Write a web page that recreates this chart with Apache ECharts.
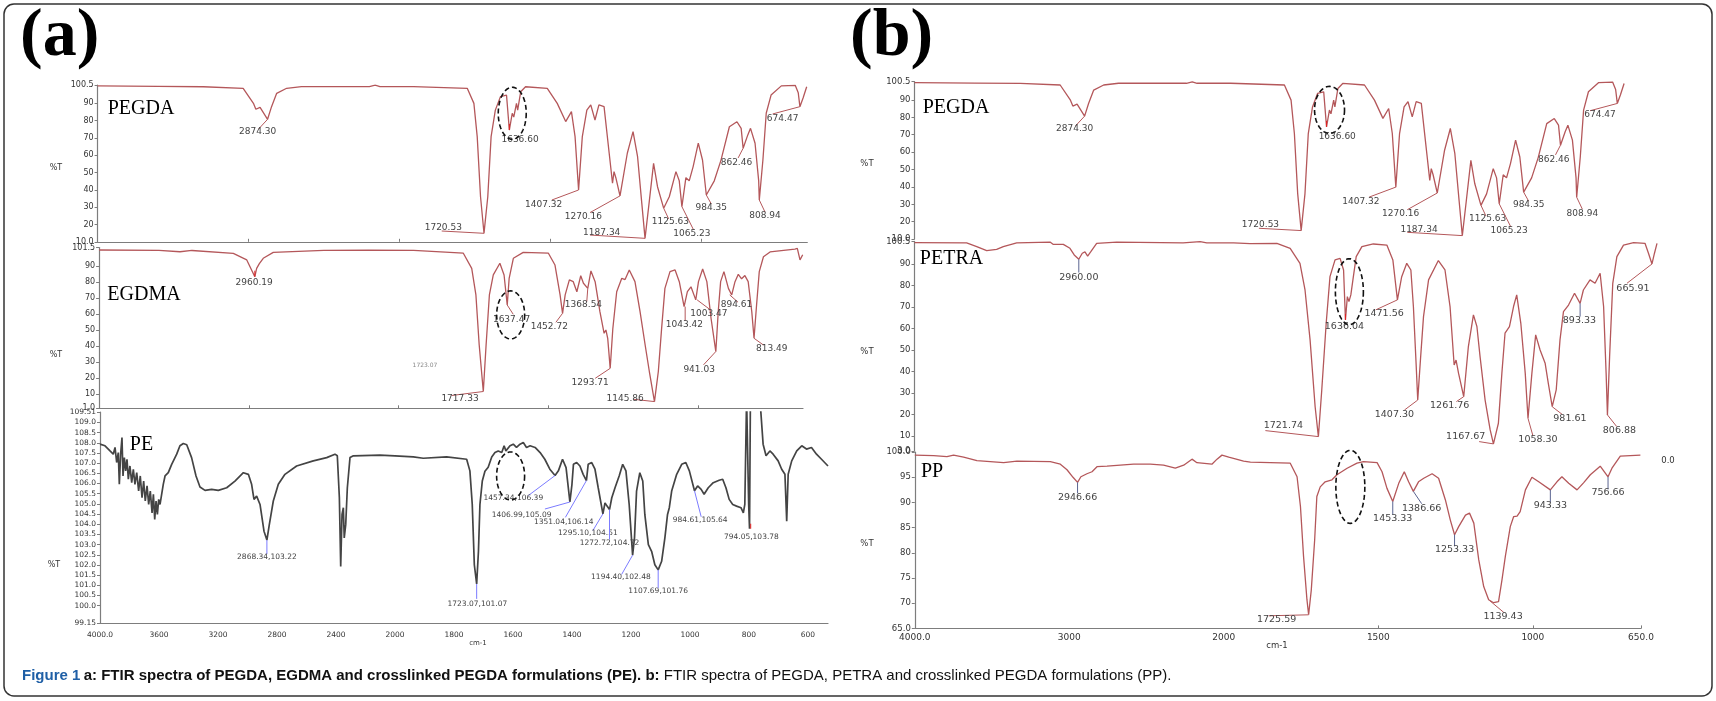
<!DOCTYPE html>
<html><head><meta charset="utf-8">
<script src="https://cdn.jsdelivr.net/npm/echarts@6.0.0/dist/echarts.min.js"></script>
<style>html,body{margin:0;padding:0;background:#fff}#c{width:1716px;height:701px}</style>
</head><body><div id="c"></div>
<script>
// ---------------- DATA (wavenumber cm-1, %T) ----------------
const pegda = [[4000,100],[3600,99.7],[3300,99.5],[3036,98.6],[2968,89.9],[2952,86.5],[2924,87.6],[2874.3,80.7],[2848,88],[2814,95.7],[2748,98.6],[2650,99.6],[2200,99.6],[2162,100.4],[2130,99.6],[1954,99.6],[1776,98.6],[1754,89.9],[1743,70.7],[1732,36],[1720.53,14.9],[1708,36],[1697,70.7],[1683,86],[1666,93.8],[1646,94.7],[1636.6,74.5],[1627,84.2],[1622,82],[1613,89.9],[1609,86],[1599,96.6],[1583,99.5],[1511,98.6],[1478,89.9],[1450,79.4],[1431,85.1],[1419,70.7],[1407.32,39.9],[1395,70.7],[1380,86],[1367,89],[1353,80.3],[1340,89],[1323,88],[1306,61.1],[1295,43.8],[1290,50.5],[1284,47],[1270.16,36.5],[1246,61.1],[1227,73.6],[1212,59.1],[1198,32.2],[1187.34,12],[1174,32.2],[1159,55.3],[1146,41.8],[1125.63,29.4],[1107,36],[1085,50.5],[1074,45.2],[1065.23,30.3],[1052,47],[1041,45.2],[1028,53.4],[1011,66.9],[997,57.2],[984.35,37],[958,45.2],[936,57],[908,76.4],[883,79.3],[869,75.5],[862.46,64],[847,71.7],[838,75.5],[823,66.9],[811,45.2],[808.94,34.1],[797,57.2],[786,84.2],[770,94.7],[736,100],[690,100.3],[680,96],[674.47,88],[664,93],[652,99.5]];

const egdma = [[4000,100],[3600,99.8],[3460,98.9],[3380,99.7],[3104,97.9],[3014,93.8],[2960.19,83.3],[2948,88.5],[2930,91.5],[2904,94.8],[2837,98.5],[2500,99.8],[2200,99.9],[1950,99.8],[1784,98],[1756,88.5],[1742,71.9],[1731,40.6],[1717.33,11.5],[1708,40.6],[1697,71.9],[1684,84.4],[1662,91.7],[1648,84.4],[1637.47,65.6],[1631,82.3],[1617,94.8],[1584,98.5],[1500,98],[1478,90.6],[1461,71.9],[1452.72,60.4],[1444,71.9],[1430,81.3],[1417,80.2],[1405,73.9],[1392,83.9],[1383,79.2],[1368.54,76],[1358,86.9],[1344,80.2],[1328,61.4],[1314,47.9],[1308,50],[1302,44.8],[1293.71,26],[1285,50.6],[1272,73.9],[1255,82.3],[1244,81.5],[1230,87.5],[1211,80.2],[1194,61.4],[1177,40.6],[1163,24],[1145.86,5.2],[1133,24],[1122,51],[1111,76],[1094,86.5],[1077,87.5],[1063,80.2],[1047,64.6],[1036,73.9],[1024,77],[1008,68.8],[999,80.2],[985,88.1],[971,80.2],[957,57.3],[941.03,36.5],[933,61.4],[925,80.2],[914,86.5],[899,76],[888,71.9],[877,80.2],[866,84.8],[855,82],[844,84],[833,80.2],[821,61.4],[813.49,44.8],[805,65.6],[796,86.5],[782,95.8],[760,98.8],[677,100.6],[669,101],[660,93.8],[651,97]];

const pe = [[4000,107.93],[3966,107.85],[3932,107.6],[3910,107.44],[3898,107.77],[3887,107.03],[3876,107.52],[3869,105.96],[3860,107.44],[3851,108.26],[3844,106.37],[3835,107.27],[3826,106.62],[3817,107.19],[3808,106.21],[3797,106.86],[3785,106.04],[3774,106.7],[3763,105.96],[3751,106.53],[3738,105.63],[3727,106.37],[3715,105.3],[3704,106.12],[3693,105.14],[3681,105.88],[3670,104.97],[3659,105.63],[3647,104.56],[3638,105.47],[3629,104.23],[3620,105.14],[3611,104.48],[3602,105.22],[3593,104.97],[3582,105.47],[3571,105.96],[3559,106.37],[3537,106.53],[3514,106.94],[3480,107.44],[3458,107.85],[3435,107.96],[3412,107.9],[3379,107.27],[3349,106.37],[3322,105.83],[3288,105.66],[3243,105.71],[3232,105.76],[3198,105.66],[3141,105.79],[3085,106.12],[3028,106.53],[2994,106.45],[2972,105.96],[2956,105.22],[2938,105.38],[2927,105.43],[2915,104.97],[2888,103.66],[2868.34,103.22],[2852,103.98],[2825,105.14],[2791,105.96],[2746,106.45],[2667,106.86],[2554,107.11],[2463,107.27],[2407,107.44],[2391,107.36],[2377,105.3],[2368,101.93],[2359,104.48],[2350,104.81],[2344,103.33],[2334,103.98],[2323,105.79],[2305,107.27],[2282,107.36],[2102,107.39],[2000,107.36],[1938,107.31],[1904,107.24],[1825,107.31],[1757,107.19],[1746,106.62],[1738,104.97],[1731,102.01],[1723.07,101.07],[1717,102.67],[1712,104.97],[1704,106.12],[1695,106.6],[1684,106.8],[1672,107.3],[1661,107.52],[1650,107.6],[1638,107.52],[1630,107.85],[1624,107.6],[1610,107.85],[1599,107.93],[1588,107.77],[1576,107.93],[1565,108.01],[1554,107.77],[1542,107.85],[1525,107.77],[1508,107.52],[1492,107.19],[1475,106.7],[1457.34,106.39],[1446,106.62],[1432,107.19],[1420,106.78],[1406.99,105.09],[1400,105.96],[1395,106.94],[1384,107.03],[1373,106.86],[1362,106.45],[1351.04,106.14],[1345,106.94],[1333,107.03],[1322,106.7],[1311,105.79],[1295.1,104.51],[1288,105.05],[1281,104.89],[1272.72,104.72],[1265,105.3],[1254,105.79],[1240,106.37],[1228,106.94],[1217,106.62],[1206,104.97],[1194.4,102.48],[1188,103.33],[1181,105.63],[1170,106.53],[1160,106.12],[1153,104.48],[1141,103],[1130,102.67],[1119,102.01],[1107.69,101.76],[1096,102.18],[1085,103.33],[1076,104.48],[1070,104.81],[1062,105.63],[1045,106.45],[1028,106.94],[1014,107.03],[1002,106.62],[984.61,105.64],[974,105.88],[962,105.71],[952,105.47],[938,105.79],[921,106.04],[901,106.16],[889,106.21],[878,105.79],[867,105.22],[855,104.97],[842,104.89],[827,104.81],[819,104.56],[814,104.97],[808,110.2],[804,110.2],[801,105],[798,103.78],[795,110.2],[763,110.2],[752,107.93],[742,107.36],[729,107.6],[718,107.44],[701,107.11],[689,106.7],[678,106.45],[672,104.15],[667,106.45],[655,107.11],[638,107.6],[621,107.85],[605,107.69],[588,107.77],[571,107.44],[554,107.19],[532,106.86]];

const petra = [[4000,99.9],[3670,99.8],[3606,98.1],[3543,96.2],[3480,96.8],[3438,98.1],[3353,99.8],[3142,100.2],[3121,99.1],[3058,99.1],[3016,97.3],[2989,94.2],[2960,92.2],[2938,95],[2921,95.6],[2904,93.7],[2885,95.6],[2847,99.6],[2720,100.2],[2300,99.8],[2192,100.4],[2150,99.8],[1990,99.8],[1938,99.5],[1853,99.6],[1811,97.3],[1780,90.3],[1764,77.9],[1748,54.7],[1732,23.6],[1721.74,9.7],[1711,31.4],[1697,62.4],[1685,84.1],[1669,91.9],[1653,92.6],[1642,87.2],[1636.04,64],[1630,74.8],[1625,72.5],[1619,75.6],[1611,84.1],[1602,93.4],[1584,98.1],[1548,99.3],[1505,98.8],[1486,91.9],[1471.56,73.3],[1458,84.1],[1442,90.3],[1429,87.2],[1421,70.2],[1412,42.2],[1407.3,26.7],[1398,46.9],[1389,65.5],[1373,82.6],[1342,91.6],[1321,87.2],[1305,70.2],[1292,43],[1286,45.3],[1278,39.1],[1261.76,28.3],[1247,51.6],[1231,66.3],[1220,60.9],[1210,46.9],[1194,26.7],[1178,12.8],[1167.67,6.3],[1152,15.9],[1141,39.1],[1131,57.8],[1117,60.9],[1104,70.2],[1094,75.6],[1081,62.4],[1067,39.1],[1058.3,18.2],[1046,39.1],[1034,57],[1020,50],[1004,43.8],[994,34.5],[981.61,23.6],[969,31.4],[957,54.7],[946,67.8],[930,70.9],[911,76.4],[893.33,71.7],[883,77.9],[862,82.6],[846,81],[830,85.7],[819,70.2],[811,39.1],[806.88,19.8],[800,46.9],[790,81],[777,93.4],[756,98.8],[724,99.9],[688,99.6],[677,95],[665.91,90],[658,95],[650,99.6]];

const pp = [[4000,99.4],[3878,99.3],[3792,99.1],[3749,99.4],[3684,99],[3598,98.3],[3425,97.9],[3339,98.2],[3123,98.1],[3058,97.6],[3015,96.5],[2976,95],[2946.66,94],[2925,95.1],[2886,95.7],[2853,96.1],[2821,97.1],[2756,97.2],[2584,97.6],[2476,97.6],[2390,97.4],[2314,96.8],[2260,97.4],[2206,98.6],[2174,97.9],[2077,97.6],[2044,98.6],[2012,99.4],[1984,99],[1936,98.2],[1914,98],[1785,97.8],[1763,95.1],[1752,89.2],[1742,79.3],[1731,70.7],[1725.59,67.7],[1717,72.6],[1706,82.6],[1699,91.2],[1688,93.1],[1672,94.1],[1650,94.5],[1634,95.5],[1601,96.8],[1569,97.8],[1548,98.1],[1504,97.9],[1488,96.1],[1472,92.8],[1453.33,90.2],[1434,93.8],[1416,96.1],[1402,94.1],[1386.66,92.2],[1370,94.1],[1353,94.8],[1326,95.7],[1305,94.8],[1283,90.5],[1267,86.5],[1253.33,83.6],[1240,85.2],[1218,87.5],[1205,87.9],[1191,85.9],[1175,78.6],[1159,73.3],[1143,70.7],[1127,70.1],[1111,70.3],[1100,74.6],[1089,79.3],[1073,85.2],[1062,87.2],[1051,87.3],[1041,88.2],[1024,92.5],[1003,95],[981,94.1],[943.33,92.5],[922,94.1],[906,95.1],[884,93.8],[857,92.5],[836,93.9],[814,95.5],[782,97.2],[756.66,95.1],[744,96.8],[717,99.2],[652,99.4]];

// labelled peaks [wavenumber, %T]
const pegdaPeaks = [[2874.30,80.7],[1720.53,14.9],[1636.60,74.5],[1407.32,39.9],[1270.16,36.5],[1187.34,12],[1125.63,29.4],[1065.23,30.3],[984.35,37],[862.46,64],[808.94,34.1],[674.47,88]];
const egdmaPeaks = [[2960.19,83.3],[1717.33,11.5],[1637.47,65.6],[1452.72,60.4],[1368.54,76],[1293.71,26],[1145.86,5.2],[1043.42,64.6],[1003.47,68.8],[941.03,36.5],[894.61,71.9],[813.49,44.8]];
const pePeaks = [[2868.34,103.22],[1723.07,101.07],[1457.34,106.39],[1406.99,105.09],[1351.04,106.14],[1295.10,104.51],[1272.72,104.72],[1194.40,102.48],[1107.69,101.76],[984.61,105.64],[794.05,103.78]];
const petraPeaks = [[2960.00,92.2],[1721.74,9.7],[1636.04,64],[1471.56,73.3],[1407.30,26.7],[1261.76,28.3],[1167.67,6.3],[1058.30,18.2],[981.61,23.6],[893.33,71.7],[806.88,19.8],[665.91,90]];
const ppPeaks = [[2946.66,94],[1725.59,67.7],[1453.33,90.2],[1386.66,92.2],[1253.33,83.6],[1139.43,70.5],[943.33,92.5],[756.66,95.1]];

// tick labels
const yTicksA1 = [10,20,30,40,50,60,70,80,90,100.5];
const yTicksA2 = [1,10,20,30,40,50,60,70,80,90,101.5];
const yTicksPE = [99.15,99.5,100,100.5,101,101.5,102,102.5,103,103.5,104,104.5,105,105.5,106,106.5,107,107.5,108,108.5,109,109.51];
const yTicksB1 = [10,20,30,40,50,60,70,80,90,100.5];
const yTicksB2 = [3,10,20,30,40,50,60,70,80,90,100.5];
const yTicksPP = [65,70,75,80,85,90,95,100];
const xTicksPE = [4000,3600,3200,2800,2400,2000,1800,1600,1400,1200,1000,800,600];
const xTicksPP = [4000,3000,2000,1500,1000,650];
const xTicksAB = [3000,2000,1500,1000];

// circled regions [wavenumber, %T]
const circled = [[1627,84.2],[1626,59.4],[1608,106.37],[1626.7,84.3],[1623.6,77.1],[1590.6,93.1]];

// ---------------- LAYOUT / STYLE ----------------
const GRIDS = [
  {left:97.6, top:85, width:709.7, height:156.8},
  {left:99.1, top:247.6, width:703.9, height:160.7},
  {left:100, top:412, width:728, height:211},
  {left:914.5, top:81.7, width:710.2, height:157.4},
  {left:914.5, top:241.4, width:742.5, height:209.6},
  {left:914.8, top:452.1, width:726.2, height:176.3}
];
const ELL = [[14,26],[14,24],[14,24],[15,23.5],[14,33],[14.5,36.5]];
// [leaderDx, leaderDy, labelDx, labelDy, colour]
const BR = '#b4575a', BL = '#7b7bff', SL = '#5a6490', RD = '#e02020';
const pegdaLay = [[-9,9.7,-10,12.7,BR],[-42.3,-2.3,-40.7,-5.7,BR],[0,-6,10.7,9.7,RD],[-26.7,10,-35,15,BR],[-30,16.7,-36.7,20.7,BR],[-55,-3.3,-43.3,-6,BR],[5,10.7,6.7,13.3,BR],[11.7,23.3,10,27.3,BR],[5,9,5,12.7,BR],[-5,9.7,-6.7,14,BR],[5.7,12,5.7,16,BR],[-27.3,7.3,-17.3,11.7,BR]];
const egdmaLay = [[0,-6,-0.7,6,RD],[-31.7,4,-23.3,7.3,BR],[6,9.3,4.3,14.3,BR],[-6.7,9,-13.3,13.3,BR],[-1,13.3,-4.3,16.7,BR],[-15,10,-20,14,BR],[-21,-2.3,-29.3,-3.3,BR],[0,14.3,-0.7,17.7,BR],[13.3,10,11.7,13.3,BR],[-12.3,13.3,-16.7,17.7,BR],[8.3,7.3,6.7,10,BR],[9.3,6.7,17.7,10.7,BR]];
const peLay = [[0,14,0,17.3,BL],[0,15,0.7,20,BL],[-26.7,20,-41.7,23,BL],[-25,7,-48.3,12.7,BL],[-21,36.7,-22.7,41.7,BL],[-10,16.7,-15,19.3,BL],[0,30,0,33.3,BL],[-11,19.3,-11.7,22,BL],[0,18.3,0,21,BL],[6.7,26,5.7,29.3,BL],[0,-5,0.7,8.3,RD]];
const petraLay = [[0,13.3,0,18.3,SL],[-53,-6,-35,-10.7,BR],[0,-6,-1,6.7,RD],[-21.7,10,-13.3,14,BR],[-13.3,10,-23.3,14.3,BR],[-7.3,5,-14,9,BR],[-14.3,-2.3,-27.7,-7.3,BR],[5,17.7,10,21,BR],[10,7.7,17.7,12,BR],[0,13.3,-0.7,17.3,SL],[9.3,11.7,12,15.7,BR],[-25,19.3,-19,24.3,BR]];
const ppLay = [[0,11,0,15.3,SL],[-40,1,-32,5,BR],[0,13.3,0,16.7,SL],[8.3,12.3,8.3,16.7,SL],[0,11.7,0,15,SL],[14,11.7,13.3,15.7,BR],[0,12.7,0,16,SL],[0,12.7,0,16,SL]];

// FTIR axis: 2x expansion below 2000 cm-1
const toT = wn => wn > 2000 ? 2000 + (wn - 2000) / 2 : wn;
const fromT = t => t > 2000 ? 2 * t - 2000 : t;
const mk = arr => arr.map(([w, v]) => [toT(w), v]);

const AX = '#7d7d7d';
const near = (a, b) => Math.abs(a - b) < 1e-6;

function xAx(i, min, show, labelWn, tickWn, fs, margin) {
  const o = {type:'value', gridIndex:i, inverse:true, min:toT(min), max:3000, splitLine:{show:false}, show:show};
  o.axisLine = {show:true, onZero:false, lineStyle:{color:AX, width:1.2}};
  o.axisTick = {show:!!tickWn, inside:true, length:3, customValues:(tickWn||[]).map(toT), lineStyle:{color:AX}};
  o.axisLabel = labelWn ? {show:true, showMinLabel:true, showMaxLabel:true, customValues:labelWn.map(toT), fontSize:fs, fontFamily:'DejaVu Sans', color:'#333', margin:margin,
      formatter: v => { const w = Math.round(fromT(v)); return (w === 4000 || w === 650) ? w.toFixed(1) : String(w); }} : {show:false};
  return o;
}
function yAx(i, ticks, fmt, fs) {
  return {type:'value', gridIndex:i, min:ticks[0], max:ticks[ticks.length-1], splitLine:{show:false},
    axisLine:{show:true, onZero:false, lineStyle:{color:AX, width:1.2}},
    axisTick:{show:true, length:3, customValues:ticks, lineStyle:{color:AX}},
    axisLabel:{customValues:ticks, showMinLabel:true, showMaxLabel:true, hideOverlap:false, formatter:fmt, fontSize:fs, fontFamily:'DejaVu Sans', color:'#333', margin:4}};
}
const fmtEnds = (lo, hi, d) => v => (near(v, lo) || near(v, hi)) ? v.toFixed(d) : String(v);
const fmtPE = v => (near(v, 99.15) || near(v, 109.51)) ? v.toFixed(2) : v.toFixed(1);

function lineSeries(i, arr, color, w) {
  return {type:'line', xAxisIndex:i, yAxisIndex:i, data:mk(arr), showSymbol:false, symbol:'none', clip:true,
    lineStyle:{color:color, width:w}, silent:true, animation:false, z:3};
}
function annSeries(i, peaks, lay, textFn, font) {
  return {type:'custom', xAxisIndex:i, yAxisIndex:i, data:mk(peaks), clip:false, silent:true, z:5, animation:false,
    renderItem(params, api) {
      const p = api.coord([api.value(0), api.value(1)]);
      const L = lay[params.dataIndex];
      const pk = peaks[params.dataIndex];
      const ch = [];
      if (L[0] || L[1]) ch.push({type:'line', shape:{x1:p[0], y1:p[1], x2:p[0]+L[0], y2:p[1]+L[1]}, style:{stroke:L[4], lineWidth:1}});
      ch.push({type:'text', x:p[0]+L[2], y:p[1]+L[3], style:{text:textFn(pk), fill:'#444', font:font, align:'center', verticalAlign:'middle'}});
      return {type:'group', children:ch};
    }};
}
function ellSeries(i) {
  return {type:'custom', xAxisIndex:i, yAxisIndex:i, data:[mk([circled[i]])[0]], clip:false, silent:true, z:6, animation:false,
    renderItem(params, api) {
      const p = api.coord([api.value(0), api.value(1)]);
      const [rx, ry] = ELL[i];
      const pts = [];
      for (let k = 0; k < 64; k++) { const a = k / 64 * Math.PI * 2; pts.push([p[0] + rx * Math.cos(a), p[1] + ry * Math.sin(a)]); }
      return {type:'polygon', shape:{points:pts}, style:{fill:null, stroke:'#111', lineWidth:1.6, lineDash:[5,3]}};
    }};
}
const wnTxt = pk => pk[0].toFixed(2);
const peTxt = pk => pk[0].toFixed(2) + ',' + pk[1].toFixed(2);
const F9 = '9px "DejaVu Sans"', F95 = '9.5px "DejaVu Sans"', F75 = '7.5px "DejaVu Sans"';
const RED = '#b4575a';

const option = {
  animation:false,
  grid: GRIDS.map(g => Object.assign({containLabel:false}, g)),
  xAxis: [
    xAx(0, 650, true, null, xTicksAB),
    xAx(1, 650, true, null, xTicksAB),
    xAx(2, 532, true, xTicksPE, null, 7.5, 8),
    xAx(3, 650, false, null, null),
    xAx(4, 650, false, null, null),
    xAx(5, 650, true, xTicksPP, [1500,1000,650], 9, 5)
  ],
  yAxis: [
    yAx(0, yTicksA1, fmtEnds(10, 100.5, 1), 8),
    yAx(1, yTicksA2, fmtEnds(1, 101.5, 1), 8),
    yAx(2, yTicksPE, fmtPE, 7.5),
    yAx(3, yTicksB1, fmtEnds(10, 100.5, 1), 8.5),
    yAx(4, yTicksB2, fmtEnds(3, 100.5, 1), 8.5),
    yAx(5, yTicksPP, fmtEnds(65, 100, 1), 8.5)
  ],
  series: [
    lineSeries(0, pegda, RED, 1.3),
    lineSeries(1, egdma, RED, 1.3),
    lineSeries(2, pe, '#444', 1.7),
    lineSeries(3, pegda, RED, 1.3),
    lineSeries(4, petra, RED, 1.3),
    lineSeries(5, pp, RED, 1.3),
    annSeries(0, pegdaPeaks, pegdaLay, wnTxt, F9),
    annSeries(1, egdmaPeaks, egdmaLay, wnTxt, F9),
    annSeries(2, pePeaks, peLay, peTxt, F75),
    annSeries(3, pegdaPeaks, pegdaLay, wnTxt, F9),
    annSeries(4, petraPeaks, petraLay, wnTxt, F95),
    annSeries(5, ppPeaks, ppLay, wnTxt, F95),
    ellSeries(0), ellSeries(1), ellSeries(2), ellSeries(3), ellSeries(4), ellSeries(5)
  ],
  graphic: [
    {type:'rect', shape:{x:4, y:4, width:1708, height:692, r:10}, style:{fill:null, stroke:'#333', lineWidth:1.5}, silent:true},
    {type:'text', x:20, y:3, style:{text:'(a)', font:'bold 68px "Liberation Serif"', fill:'#000'}},
    {type:'text', x:850, y:3, style:{text:'(b)', font:'bold 68px "Liberation Serif"', fill:'#000'}},
    {type:'text', x:141, y:109, style:{text:'PEGDA', font:'20px "Liberation Serif"', fill:'#000', align:'center', verticalAlign:'middle'}},
    {type:'text', x:144, y:294.5, style:{text:'EGDMA', font:'20px "Liberation Serif"', fill:'#000', align:'center', verticalAlign:'middle'}},
    {type:'text', x:141.5, y:445, style:{text:'PE', font:'20px "Liberation Serif"', fill:'#000', align:'center', verticalAlign:'middle'}},
    {type:'text', x:956, y:107.5, style:{text:'PEGDA', font:'20px "Liberation Serif"', fill:'#000', align:'center', verticalAlign:'middle'}},
    {type:'text', x:951.5, y:259, style:{text:'PETRA', font:'20px "Liberation Serif"', fill:'#000', align:'center', verticalAlign:'middle'}},
    {type:'text', x:932, y:472, style:{text:'PP', font:'20px "Liberation Serif"', fill:'#000', align:'center', verticalAlign:'middle'}},
    {type:'text', x:56, y:168, style:{text:'%T', font:'8px "DejaVu Sans"', fill:'#333', align:'center', verticalAlign:'middle'}},
    {type:'text', x:56, y:355, style:{text:'%T', font:'8px "DejaVu Sans"', fill:'#333', align:'center', verticalAlign:'middle'}},
    {type:'text', x:54, y:565, style:{text:'%T', font:'8px "DejaVu Sans"', fill:'#333', align:'center', verticalAlign:'middle'}},
    {type:'text', x:867, y:164, style:{text:'%T', font:'8.5px "DejaVu Sans"', fill:'#333', align:'center', verticalAlign:'middle'}},
    {type:'text', x:867, y:352, style:{text:'%T', font:'8.5px "DejaVu Sans"', fill:'#333', align:'center', verticalAlign:'middle'}},
    {type:'text', x:867, y:544, style:{text:'%T', font:'8.5px "DejaVu Sans"', fill:'#333', align:'center', verticalAlign:'middle'}},
    {type:'text', x:478, y:643, style:{text:'cm-1', font:'7px "DejaVu Sans"', fill:'#333', align:'center', verticalAlign:'middle'}},
    {type:'text', x:1277, y:646, style:{text:'cm-1', font:'8.5px "DejaVu Sans"', fill:'#333', align:'center', verticalAlign:'middle'}},
    {type:'text', x:425, y:365, style:{text:'1723.07', font:'6px "DejaVu Sans"', fill:'#888', align:'center', verticalAlign:'middle'}},
    {type:'text', x:1668, y:461, style:{text:'0.0', font:'8.5px "DejaVu Sans"', fill:'#333', align:'center', verticalAlign:'middle'}},
    {type:'text', x:22, y:668, style:{
      text:'{b|Figure 1} {k|a: FTIR spectra of PEGDA, EGDMA and crosslinked PEGDA formulations (PE). b:}{n| FTIR spectra of PEGDA, PETRA and crosslinked PEGDA formulations (PP).}',
      rich:{b:{fill:'#1f5fa6', font:'bold 15px "Liberation Sans"'}, k:{fill:'#111', font:'bold 15px "Liberation Sans"'}, n:{fill:'#111', font:'15px "Liberation Sans"'}}}}
  ]
};
const chart = echarts.init(document.getElementById('c'), null, {renderer:'canvas'});
chart.setOption(option);
</script></body></html>
